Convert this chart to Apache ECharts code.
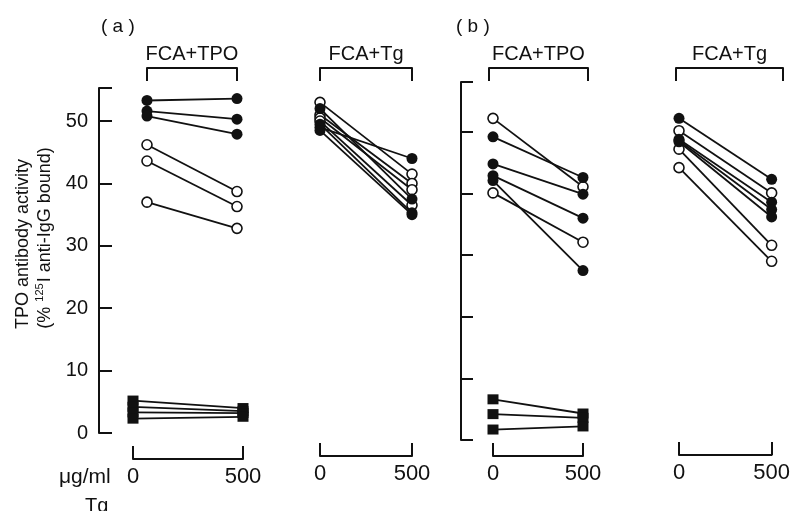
<!DOCTYPE html>
<html>
<head>
<meta charset="utf-8">
<script src="https://cdn.jsdelivr.net/npm/echarts@6/dist/echarts.min.js"></script>
<style>html,body{margin:0;padding:0;background:#fff}#c{width:793px;height:511px}</style>
</head>
<body>
<div id="c"></div>
<script>
// ---- data ----
const doses = [0, 500];
const doseLabels = ['0', '500'];
const yTicks = [0, 10, 20, 30, 40, 50];
const groupNames = ['FCA+TPO', 'FCA+Tg', 'FCA+TPO', 'FCA+Tg'];
// each pair: [value at 0 µg/ml, value at 500 µg/ml]
const aTpoFilled = [[53.3, 53.6], [51.6, 50.3], [50.8, 47.9]];
const aTpoOpen = [[46.2, 38.7], [43.6, 36.3], [37.0, 32.8]];
const aTpoSquares = [[5.2, 4.0], [4.2, 3.5], [3.3, 3.2], [2.3, 2.6]];
const aTgFilled = [[49.0, 44.0], [52.0, 37.5], [49.5, 35.3], [48.5, 35.0]];
const aTgOpen = [[53.0, 41.5], [51.0, 40.0], [50.5, 39.0], [50.0, 36.5]];
const bTpoFilled = [[49.2, 42.6], [44.8, 39.9], [42.9, 36.0], [42.1, 27.5]];
const bTpoOpen = [[52.2, 41.1], [40.1, 32.1]];
const bTpoSquares = [[6.6, 4.3], [4.2, 3.6], [1.7, 2.2]];
const bTgFilled = [[52.2, 42.3], [48.8, 38.6], [48.6, 37.4], [48.4, 36.2]];
const bTgOpen = [[50.2, 40.1], [47.2, 31.6], [44.2, 29.0]];
const aMax = 55.3;
const bMax = 58.1;

// ---- styling / layout ----
const FONT = 'Liberation Sans';
const INK = '#111';

const chart = echarts.init(document.getElementById('c'), null, {renderer: 'canvas'});

const grids = [
  {left: 147, top: 88, width: 90, height: 345},   // 0 a TPO circles
  {left: 133, top: 88, width: 110, height: 345},  // 1 a TPO squares
  {left: 320, top: 88, width: 92, height: 345},   // 2 a Tg
  {left: 493, top: 82, width: 90, height: 358},   // 3 b TPO
  {left: 489, top: 82, width: 99, height: 358},   // 4 b TPO top bracket
  {left: 679, top: 82, width: 94, height: 358},   // 5 b Tg
  {left: 676, top: 82, width: 107, height: 358}   // 6 b Tg top bracket
];

function bracketAxis(gridIndex, position, offset, opts) {
  return Object.assign({
    type: 'value', gridIndex, position, offset,
    min: 0, max: 500, interval: 500,
    axisLine: {show: true, onZero: false, lineStyle: {color: INK, width: 2}},
    axisTick: {show: true, inside: true, length: 13, lineStyle: {color: INK, width: 2}},
    axisLabel: {show: false},
    splitLine: {show: false}
  }, opts || {});
}
function topBracket(gridIndex, offset, name) {
  return bracketAxis(gridIndex, 'top', offset, {
    name, nameLocation: 'middle', nameGap: 4,
    nameTextStyle: {fontFamily: FONT, fontSize: 20, color: INK}
  });
}
function bottomBracket(gridIndex, offset) {
  return bracketAxis(gridIndex, 'bottom', offset, {
    axisLabel: {show: true, margin: 7, fontFamily: FONT, fontSize: 22, color: INK,
      formatter: v => doseLabels[doses.indexOf(v)]}
  });
}

const xAxes = [
  topBracket(0, 20, groupNames[0]),   // 0
  bottomBracket(1, 26),               // 1
  topBracket(2, 20, groupNames[1]),   // 2
  bottomBracket(2, 23),               // 3
  bottomBracket(3, 16),               // 4
  topBracket(4, 14, groupNames[2]),   // 5
  bottomBracket(5, 15),               // 6
  topBracket(6, 14, groupNames[3])    // 7
];

function hiddenY(gridIndex, max) {
  return {type: 'value', gridIndex, min: 0, max, show: false, splitLine: {show: false}};
}
const yAxes = [
  {type: 'value', gridIndex: 0, min: 0, max: aMax, interval: 10, offset: 48, position: 'left',
    axisLine: {show: true, onZero: false, lineStyle: {color: INK, width: 2}},
    axisTick: {show: true, inside: true, length: 13, lineStyle: {color: INK, width: 2},
      customValues: yTicks.concat([aMax])},
    axisLabel: {show: true, margin: 11, fontFamily: FONT, fontSize: 20, color: INK, customValues: yTicks},
    splitLine: {show: false}},
  hiddenY(1, aMax),
  hiddenY(2, aMax),
  {type: 'value', gridIndex: 3, min: 0, max: bMax, interval: 10, offset: 32, position: 'left',
    axisLine: {show: true, onZero: false, lineStyle: {color: INK, width: 2}},
    axisTick: {show: true, inside: true, length: 12, lineStyle: {color: INK, width: 2},
      customValues: yTicks.concat([bMax])},
    axisLabel: {show: false},
    splitLine: {show: false}},
  hiddenY(4, bMax),
  hiddenY(5, bMax),
  hiddenY(6, bMax)
];

const series = [];
function addPairs(pairs, xIdx, yIdx, kind) {
  pairs.forEach(p => {
    const open = kind === 'open';
    series.push({
      type: 'line', xAxisIndex: xIdx, yAxisIndex: yIdx,
      data: doses.map((d, i) => [d, p[i]]),
      symbol: kind === 'square' ? 'rect' : 'circle',
      symbolSize: kind === 'square' ? [11, 10] : (open ? 10 : 11),
      showSymbol: true,
      lineStyle: {color: INK, width: 1.8},
      itemStyle: {color: open ? '#fff' : INK, borderColor: INK, borderWidth: open ? 1.6 : 0, opacity: 1},
      z: open ? 3 : 4,
      silent: true
    });
  });
}
addPairs(aTpoOpen, 0, 0, 'open');
addPairs(aTpoFilled, 0, 0, 'filled');
addPairs(aTpoSquares, 1, 1, 'square');
addPairs(aTgOpen, 3, 2, 'open');
addPairs(aTgFilled, 3, 2, 'filled');
addPairs(bTpoOpen, 4, 3, 'open');
addPairs(bTpoFilled, 4, 3, 'filled');
addPairs(bTpoSquares, 4, 3, 'square');
addPairs(bTgOpen, 6, 5, 'open');
addPairs(bTgFilled, 6, 5, 'filled');

const txt = (t, left, top, size) => ({text: t, left, top,
  textStyle: {fontFamily: FONT, fontSize: size, fontWeight: 'normal', color: INK}});

chart.setOption({
  animation: false,
  backgroundColor: '#fff',
  title: [
    txt('( a )', 96, 12, 19),
    txt('( b )', 451, 12, 19),
    txt('\u03bcg/ml', 54, 462, 21),
    txt('Tg', 80, 491, 20)
  ],
  grid: grids,
  xAxis: xAxes,
  yAxis: yAxes,
  series,
  graphic: [
    {type: 'text', x: 23, y: 244, rotation: Math.PI / 2,
      style: {text: 'TPO antibody activity', font: '18px "Liberation Sans"', fill: INK,
        align: 'center', verticalAlign: 'middle'}},
    {type: 'text', x: 45, y: 238, rotation: Math.PI / 2,
      style: {text: '{n|(% }{s|125}{n|I anti-IgG bound)}', fill: INK,
        align: 'center', verticalAlign: 'middle',
        rich: {n: {fontFamily: FONT, fontSize: 18, fill: INK, lineHeight: 22},
               s: {fontFamily: FONT, fontSize: 11, fill: INK, verticalAlign: 'top', lineHeight: 22, padding: [0, 1, 8, 0]}}}}
  ]
});
</script>
</body>
</html>
